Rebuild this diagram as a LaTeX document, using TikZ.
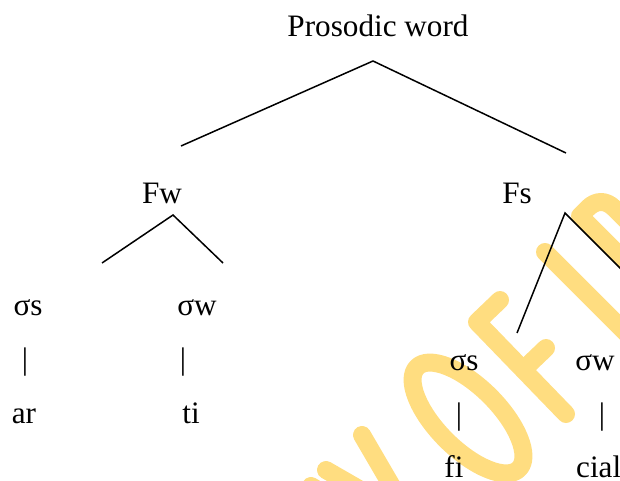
\documentclass[tikz,border=0pt]{standalone}
\usepackage{fontspec}
\setmainfont{Liberation Serif}[Ligatures=NoCommon]
\definecolor{wmyellow}{RGB}{255,221,128}
\tikzset{
  lbl/.style={font=\fontsize{31.2}{36}\selectfont, anchor=base, inner sep=0pt},
  branch/.style={draw=black, line width=1.5pt},
  wm/.style={draw=wmyellow, line width=18pt, line cap=round, line join=round}
}
\begin{document}
\begin{tikzpicture}[x=1pt,y=-1pt]
\useasboundingbox (0,0) rectangle (620,481);
\clip (0,0) rectangle (620,481);
% watermark (partial, clipped)
\draw[wm] (362,435) -- (411,519);
\draw[wm] (326,470) -- (411,519);
\draw[wm] (311,486) -- (345,506);
\begin{scope}[shift={(468,418)}, rotate=-45]
  \draw[wm] (0,0) ellipse [x radius=72pt, y radius=31pt];
\end{scope}
\draw[wm] (500,300) -- (477,322) -- (566,414);
\draw[wm] (524,369) -- (546,348);
\draw[wm] (545,252) -- (650,357);
\draw[wm] (655,291) -- (580,216) -- (588,208) .. controls (596,200) and (606,200) .. (614,208) -- (640,234);
% named end points of the branches
\coordinate (pwpk) at (373,61);
\coordinate (pwl) at (181,146);
\coordinate (pwr) at (566,153);
\coordinate (fwpk) at (173,215);
\coordinate (fwl) at (102,263);
\coordinate (fwr) at (223,263);
\coordinate (fspk) at (565,213);
\coordinate (fsl) at (517,333);
\coordinate (fsr) at (645,293);
\draw[branch] (pwl) -- (pwpk) -- (pwr);
\draw[branch] (fwl) -- (fwpk) -- (fwr);
\draw[branch] (fsl) -- (fspk) -- (fsr);
% labels
\node[lbl] (pw) at (378,37) {Prosodic word};
\node[lbl] (fw) at (162,203) {Fw};
\node[lbl] (fs) at (517,203) {Fs};
\node[lbl] (s1) at (28,315) {σs};
\node[lbl] (w1) at (197,315) {σw};
\node[lbl] (b1) at (25,369) {|};
\node[lbl] (b2) at (183,369) {|};
\node[lbl] (a1) at (24,423) {ar};
\node[lbl] (t1) at (191,423) {ti};
\node[lbl] (s2) at (464,370) {σs};
\node[lbl] (w2) at (595,370) {σw};
\node[lbl] (b3) at (459,424) {|};
\node[lbl] (b4) at (602,424) {|};
\node[lbl] (f2) at (454,477) {fi};
\node[lbl, anchor=base west] (c2) at (576,477) {cial};
\end{tikzpicture}
\end{document}
